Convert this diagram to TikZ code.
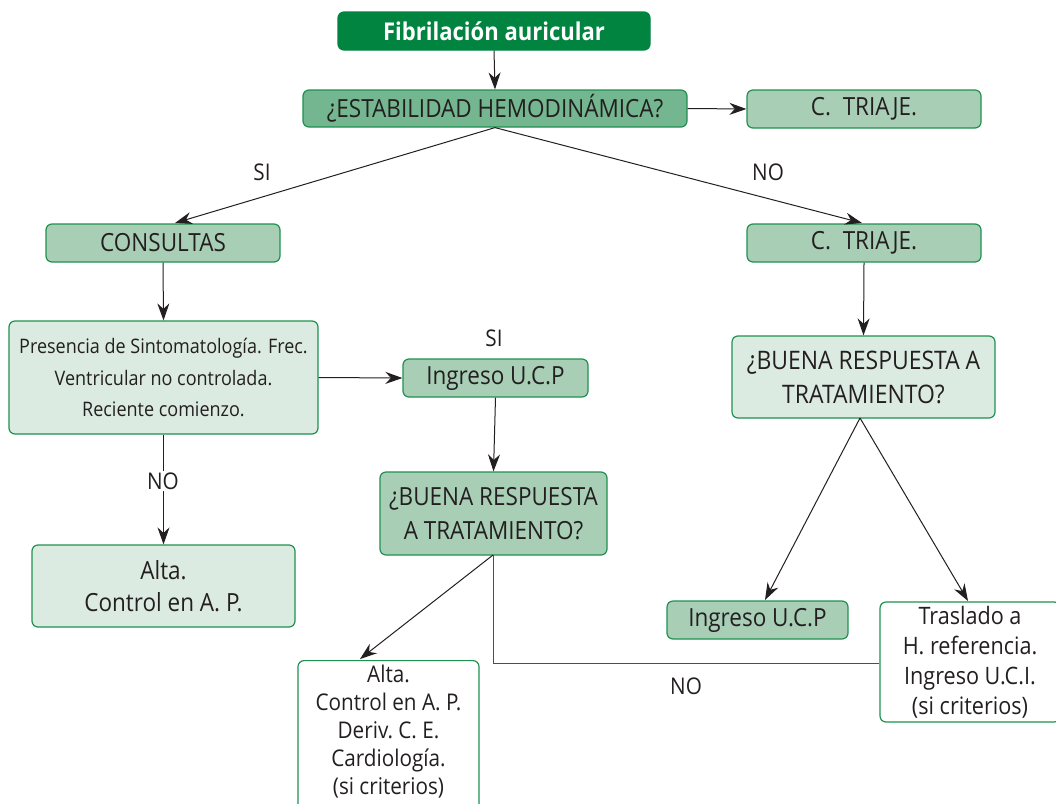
\documentclass[tikz,border=0pt]{standalone}
\usepackage{fontspec}
\setmainfont[FakeStretch=0.90]{Open Sans}
\usetikzlibrary{arrows.meta}
\definecolor{gdark}{HTML}{00843F}
\definecolor{gmid}{HTML}{73B68F}
\definecolor{gsoft}{HTML}{A8CFB6}
\definecolor{gpale}{HTML}{DCEBE1}
\definecolor{gline}{HTML}{1E9150}
\definecolor{ink}{HTML}{231F20}
\begin{document}
\begin{tikzpicture}[x=1pt,y=-1pt,
  box/.style={draw=gline,line width=1.2pt,rounded corners=6pt,align=center,
    inner sep=0pt,text=ink,font=\fontsize{25}{33}\selectfont},
  dark/.style={box,fill=gdark,draw=gdark,text=white,font=\fontsize{24.5}{28}\selectfont\bfseries},
  mid/.style={box,fill=gmid},
  soft/.style={box,fill=gsoft},
  pale/.style={box,fill=gpale},
  plain/.style={box,fill=white},
  arr/.style={-{Stealth[length=17pt,width=12pt]},line width=1pt,draw=ink},
  lbl/.style={text=ink,font=\fontsize{23}{25}\selectfont}]
\useasboundingbox (0,0) rectangle (1056,803);

% boxes
\node[dark,minimum width=312pt,minimum height=38pt] (fa) at (494,31) {Fibrilación auricular};
\node[mid,minimum width=384pt,minimum height=37pt] (eh) at (495,108.5) {¿ESTABILIDAD HEMODINÁMICA?};
\node[soft,minimum width=234pt,minimum height=38pt] (t1) at (864,109) {C.\ \ TRIAJE.};
\node[soft,minimum width=234pt,minimum height=38pt] (cons) at (163,243) {CONSULTAS};
\node[soft,minimum width=234pt,minimum height=38pt] (t2) at (864,243) {C.\ \ TRIAJE.};
\node[pale,minimum width=309pt,minimum height=113pt,font=\fontsize{20}{31.5}\selectfont] (pres) at (163.5,377.5)
  {Presencia de Sintomatología. Frec.\\Ventricular no controlada.\\Reciente comienzo.};
\node[soft,minimum width=185pt,minimum height=38pt] (ucp1) at (495.5,378) {Ingreso U.C.P};
\node[soft,minimum width=227pt,minimum height=83pt,font=\fontsize{25}{34}\selectfont] (br1) at (493.5,513.5)
  {¿BUENA RESPUESTA\\A TRATAMIENTO?};
\node[pale,minimum width=263pt,minimum height=82pt,font=\fontsize{25}{32}\selectfont] (alta1) at (163.5,586)
  {Alta.\\Control en A.\ P.};
\node[pale,minimum width=263pt,minimum height=82pt,font=\fontsize{25.5}{34}\selectfont] (br2) at (863.5,377)
  {¿BUENA RESPUESTA A\\TRATAMIENTO?};
\node[soft,minimum width=181pt,minimum height=38pt] (ucp2) at (757.5,620) {Ingreso U.C.P};
\node[plain,minimum width=180pt,minimum height=120pt,font=\fontsize{24}{30}\selectfont] (tras) at (970,662)
  {Traslado a\\H.\ referencia.\\Ingreso U.C.I.\\(si criterios)};
% the lower "Alta." box runs past the bottom edge
\node[plain,minimum width=181pt,minimum height=160pt,anchor=north] (alta2) at (388.5,660) {};
\node[text=ink,font=\fontsize{23}{28}\selectfont,align=center,anchor=north,inner sep=0pt] (alta2t) at (388.5,665)
  {Alta.\\Control en A.\ P.\\Deriv.\ C.\ E.\\Cardiología.\\(si criterios)};

% connectors
\draw[arr] (fa.south) -- (eh.north);
\draw[arr] (eh.east) -- (t1.west);
\draw[arr] (eh.south) -- (175,223);
\draw[arr] (eh.south) -- (862,223);
\draw[arr] (cons.south) -- (pres.north);
\draw[arr] (t2.south) -- (br2.north);
\draw[arr] (pres.east) -- (ucp1.west);
\draw[arr] (ucp1.south) -- (br1.north);
\draw[arr] (pres.south) -- (alta1.north);
\coordinate (b1) at (493,555);
\draw[arr] (b1) -- (360,659);
\draw[line width=1pt,draw=ink!80] (b1) -- (493,663) -- (tras.west |- 0,663);
\coordinate (b2) at (860,418);
\draw[arr] (b2) -- (765,600);
\draw[arr] (b2) -- (968,601);

% labels
\node[lbl] (lsi1) at (262,172) {SI};
\node[lbl] (lno1) at (768,172) {NO};
\node[lbl] (lsi2) at (494,338) {SI};
\node[lbl,fill=white,inner sep=2pt] (lno2) at (163,481) {NO};
\node[lbl] (lno3) at (686,686) {NO};
\end{tikzpicture}
\end{document}
